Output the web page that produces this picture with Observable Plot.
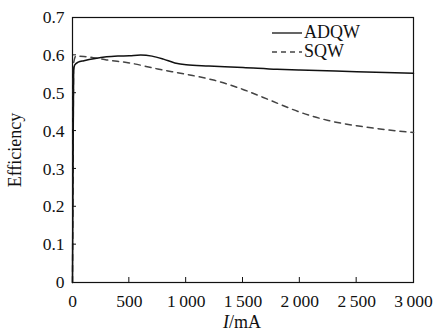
<!DOCTYPE html>
<html><head><meta charset="utf-8">
<script src="https://cdn.jsdelivr.net/npm/d3@7"></script>
<script src="https://cdn.jsdelivr.net/npm/@observablehq/plot@0.6"></script>
<style>
body{margin:0;background:#fff;font-family:"Liberation Serif",serif;}
#wrap{position:relative;width:435px;height:331px;}
#wrap svg text{font-family:"Liberation Serif","Times New Roman",serif !important;}
#legend{position:absolute;left:272px;top:23px;font-size:18px;line-height:19px;color:#111;}
#legend div{display:flex;align-items:center;}
#legend svg{margin-right:2px;}
</style></head>
<body><div id="wrap"><div id="legend"></div></div>
<script>
const seriesNames = ["ADQW", "SQW"];
const adqwI = [0, 5, 10, 20, 50, 100, 200, 300, 400, 500, 600, 700, 800, 900, 1000, 1200, 1500, 1800, 2000, 2500, 3000];
const adqwE = [0, 0.3, 0.56, 0.575, 0.582, 0.586, 0.592, 0.596, 0.598, 0.599, 0.601, 0.598, 0.59, 0.58, 0.575, 0.572, 0.568, 0.563, 0.561, 0.557, 0.553];
const sqwI = [0, 5, 10, 30, 100, 200, 300, 500, 750, 1000, 1250, 1500, 1750, 2000, 2250, 2500, 2750, 3000];
const sqwE = [0, 0.3, 0.58, 0.598, 0.597, 0.593, 0.588, 0.58, 0.564, 0.55, 0.534, 0.51, 0.48, 0.45, 0.428, 0.414, 0.404, 0.396];
const xTicks = [0, 500, 1000, 1500, 2000, 2500, 3000];
const yTicks = [0, 0.1, 0.2, 0.3, 0.4, 0.5, 0.6, 0.7];

const adqw = adqwI.map((x, i) => ({x, y: adqwE[i]}));
const sqw = sqwI.map((x, i) => ({x, y: sqwE[i]}));
const fmtX = d => d >= 1000 ? d3.format(",")(d).replace(",", "\u2009") : String(d);
const fmtY = d => d === 0 ? "0" : d3.format(".1f")(d);
const FONT = "'Liberation Serif', 'Times New Roman', serif";

const chart = Plot.plot({
  width: 435, height: 331,
  marginLeft: 72, marginRight: 22, marginTop: 17, marginBottom: 49,
  style: {fontFamily: FONT, fontSize: "17.5px", color: "#111", background: "#fff"},
  x: {type: "linear", domain: [0, 3000]},
  y: {type: "linear", domain: [0, 0.7]},
  marks: [
    Plot.frame({stroke: "#111", strokeWidth: 1.2}),
    Plot.axisX({ticks: xTicks, tickFormat: fmtX, tickSize: 0, tickPadding: 12, label: null, fontSize: 17.5}),
    Plot.axisY({ticks: yTicks, tickFormat: fmtY, tickSize: 0, tickPadding: 8, label: null, fontSize: 17.5}),
    Plot.line(sqw, {x: "x", y: "y", stroke: "#444", strokeWidth: 1.5, strokeDasharray: "6,5", curve: "monotone-x"}),
    Plot.line(adqw, {x: "x", y: "y", stroke: "#111", strokeWidth: 1.5, curve: "monotone-x"})
  ]
});
document.getElementById("wrap").appendChild(chart);

// axis titles
const svg = d3.select(chart);
svg.append("text").attr("transform", "translate(17,150) rotate(-90)").attr("text-anchor", "middle")
  .attr("dominant-baseline", "middle").style("font-size", "18px").text("Efficiency");
const xt = svg.append("text").attr("x", 242).attr("y", 328).attr("text-anchor", "middle").style("font-size", "18px");
xt.append("tspan").style("font-style", "italic").text("I");
xt.append("tspan").text("/mA");

// small inward ticks
const x = chart.scale("x"), y = chart.scale("y");
const g = svg.append("g").attr("stroke", "#111").attr("stroke-width", 1);
xTicks.slice(1, -1).forEach(t => g.append("line").attr("x1", x.apply(t)).attr("x2", x.apply(t)).attr("y1", y.apply(0)).attr("y2", y.apply(0) - 5));
yTicks.slice(1, -1).forEach(t => g.append("line").attr("y1", y.apply(t)).attr("y2", y.apply(t)).attr("x1", x.apply(0)).attr("x2", x.apply(0) + 4));

// legend
const leg = document.getElementById("legend");
seriesNames.forEach((n, i) => {
  const row = document.createElement("div");
  row.innerHTML = `<svg width="30" height="10"><line x1="0" x2="30" y1="5" y2="5" stroke="${i ? "#444" : "#111"}" stroke-width="1.3" ${i ? 'stroke-dasharray="5,4"' : ""}/></svg><span>${n}</span>`;
  leg.appendChild(row);
});
</script></body></html>
